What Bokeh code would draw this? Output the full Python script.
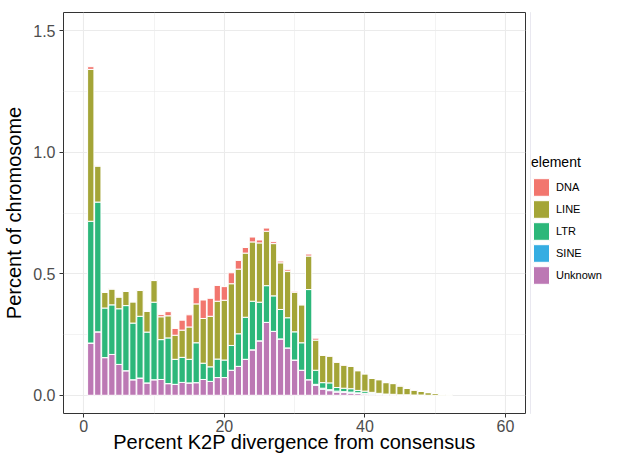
from bokeh.plotting import figure
from bokeh.layouts import row
from bokeh.models import (ColumnDataSource, FixedTicker, PrintfTickFormatter,
                          Legend, LegendItem, Range1d)
from bokeh.embed import file_html
from bokeh.resources import INLINE

# ---- data ----
divergence = list(range(1, 53))

unknown = [0.215, 0.261, 0.155, 0.168, 0.127, 0.101, 0.064, 0.071, 0.051, 0.064,
           0.065, 0.048, 0.045, 0.053, 0.051, 0.052, 0.065, 0.057, 0.073, 0.073,
           0.103, 0.119, 0.148, 0.187, 0.224, 0.300, 0.263, 0.232, 0.195, 0.145,
           0.103, 0.064, 0.041, 0.025, 0.019, 0.013, 0.011, 0.009, 0.007, 0.005,
           0.004, 0.003, 0.002, 0.002, 0.001, 0.001, 0.001, 0.001, 0.0, 0.0,
           0.0, 0.0]

sine = [0.0, 0.0, 0.0, 0.0, 0.0, 0.0, 0.0, 0.0, 0.0, 0.0,
        0.0, 0.0, 0.0, 0.0, 0.0, 0.0, 0.0, 0.0, 0.0, 0.0,
        0.0, 0.0, 0.0, 0.0, 0.0, 0.0, 0.0, 0.0, 0.0, 0.0,
        0.0, 0.0, 0.004, 0.004, 0.004, 0.004, 0.004, 0.004, 0.003, 0.003,
        0.003, 0.002, 0.002, 0.001, 0.0, 0.0, 0.0, 0.0, 0.0, 0.0,
        0.0, 0.0]

ltr = [0.501, 0.534, 0.204, 0.204, 0.229, 0.268, 0.233, 0.254, 0.209, 0.319,
       0.164, 0.188, 0.103, 0.103, 0.097, 0.164, 0.067, 0.060, 0.076, 0.072,
       0.102, 0.134, 0.173, 0.200, 0.159, 0.151, 0.146, 0.121, 0.124, 0.116,
       0.113, 0.371, 0.058, 0.023, 0.028, 0.015, 0.014, 0.014, 0.010, 0.009,
       0.005, 0.003, 0.001, 0.001, 0.001, 0.001, 0.0, 0.0, 0.0, 0.0,
       0.0, 0.0]

line = [0.625, 0.148, 0.064, 0.065, 0.048, 0.058, 0.087, 0.106, 0.085, 0.089,
        0.094, 0.091, 0.099, 0.112, 0.133, 0.160, 0.184, 0.208, 0.238, 0.246,
        0.254, 0.266, 0.264, 0.244, 0.244, 0.224, 0.215, 0.192, 0.190, 0.163,
        0.156, 0.138, 0.124, 0.112, 0.110, 0.104, 0.095, 0.092, 0.081, 0.071,
        0.057, 0.056, 0.047, 0.044, 0.036, 0.026, 0.020, 0.015, 0.011, 0.008,
        0.004, 0.002]

dna = [0.011, 0.002, 0.002, 0.002, 0.002, 0.002, 0.002, 0.002, 0.002, 0.002,
       0.009, 0.017, 0.028, 0.041, 0.050, 0.067, 0.076, 0.074, 0.065, 0.056,
       0.045, 0.036, 0.023, 0.020, 0.012, 0.013, 0.008, 0.007, 0.007, 0.004,
       0.002, 0.008, 0.008, 0.002, 0.001, 0.001, 0.001, 0.001, 0.001, 0.001,
       0.001, 0.001, 0.001, 0.001, 0.001, 0.001, 0.001, 0.0, 0.0, 0.0,
       0.0, 0.0]

elements = ["DNA", "LINE", "LTR", "SINE", "Unknown"]
element_colors = {"DNA": "#F2766E", "LINE": "#A4A537", "LTR": "#2CB77A",
                  "SINE": "#35ADE2", "Unknown": "#BC78B4"}

x_ticks = [0, 20, 40, 60]
x_minor = [10, 30, 50]
y_ticks = [0.0, 0.5, 1.0, 1.5]
y_minor = [0.25, 0.75, 1.25]

source = ColumnDataSource(dict(x=divergence, Unknown=unknown, SINE=sine,
                               LTR=ltr, LINE=line, DNA=dna))

FONT = "Liberation Sans"

# ---- main chart ----
p = figure(width=530, height=457, output_backend="svg", toolbar_location=None,
           x_range=Range1d(-2.88, 62.85), y_range=Range1d(-0.075, 1.575),
           min_border_left=63, min_border_right=5, min_border_top=12,
           min_border_bottom=44,
           x_axis_label="Percent K2P divergence from consensus",
           y_axis_label="Percent of chromosome")
p.background_fill_color = "white"
p.border_fill_color = "white"
p.outline_line_color = "#333333"
p.outline_line_width = 1

stack_order = ["Unknown", "SINE", "LTR", "LINE", "DNA"]
p.vbar_stack(stack_order, x="x", width=0.9, source=source,
             fill_color=[element_colors[e] for e in stack_order],
             line_color="white", line_width=1)

p.xaxis.ticker = FixedTicker(ticks=x_ticks, minor_ticks=x_minor)
p.yaxis.ticker = FixedTicker(ticks=y_ticks, minor_ticks=y_minor)
p.xaxis.formatter = PrintfTickFormatter(format="%d")
p.yaxis.formatter = PrintfTickFormatter(format="%.1f")
for ax in (p.xaxis, p.yaxis):
    ax.axis_line_color = None
    ax.major_tick_line_color = "#333333"
    ax.major_tick_line_width = 1
    ax.major_tick_out = 4
    ax.major_tick_in = 0
    ax.minor_tick_line_color = None
    ax.major_label_text_font = FONT
    ax.major_label_text_font_size = "16px"
    ax.major_label_text_color = "#4D4D4D"
    ax.axis_label_text_font = FONT
    ax.axis_label_text_font_size = "20px"
    ax.axis_label_text_font_style = "normal"
    ax.axis_label_text_color = "black"
p.xaxis.major_label_standoff = 2
p.yaxis.major_label_standoff = 4
p.xaxis.axis_label_standoff = -4
p.yaxis.axis_label_standoff = 5

for g in (p.xgrid, p.ygrid):
    g.grid_line_color = "#EBEBEB"
    g.grid_line_width = 1.1
    g.minor_grid_line_color = "#EBEBEB"
    g.minor_grid_line_width = 0.6

# ---- legend panel ----
q = figure(width=74, height=457, output_backend="svg", toolbar_location=None,
           x_range=Range1d(0, 1), y_range=Range1d(0, 1),
           x_axis_location=None, y_axis_location=None,
           min_border_left=0, min_border_right=0, min_border_top=0,
           min_border_bottom=0)
q.grid.visible = False
q.outline_line_color = None
q.background_fill_color = "white"
q.border_fill_color = "white"

items = []
for e in elements:
    # key-only renderer, placed outside the visible range of this panel
    r = q.vbar(x=[-5], top=[1], width=0.5, fill_color=element_colors[e],
               line_color="white", line_width=1)
    items.append(LegendItem(label=e, renderers=[r]))

legend = Legend(items=items, location=(1, 127), title="element",
                title_text_font=FONT, title_text_font_size="14px",
                title_text_font_style="normal", title_text_color="black",
                title_standoff=6,
                label_text_font=FONT, label_text_font_size="11px",
                label_text_color="black", label_standoff=5,
                glyph_width=20, glyph_height=22, label_height=22, spacing=0,
                padding=0, margin=0, border_line_color=None,
                background_fill_alpha=0)
q.add_layout(legend, "center")

layout = row(p, q)
open("out.html", "w").write(file_html(layout, INLINE))
